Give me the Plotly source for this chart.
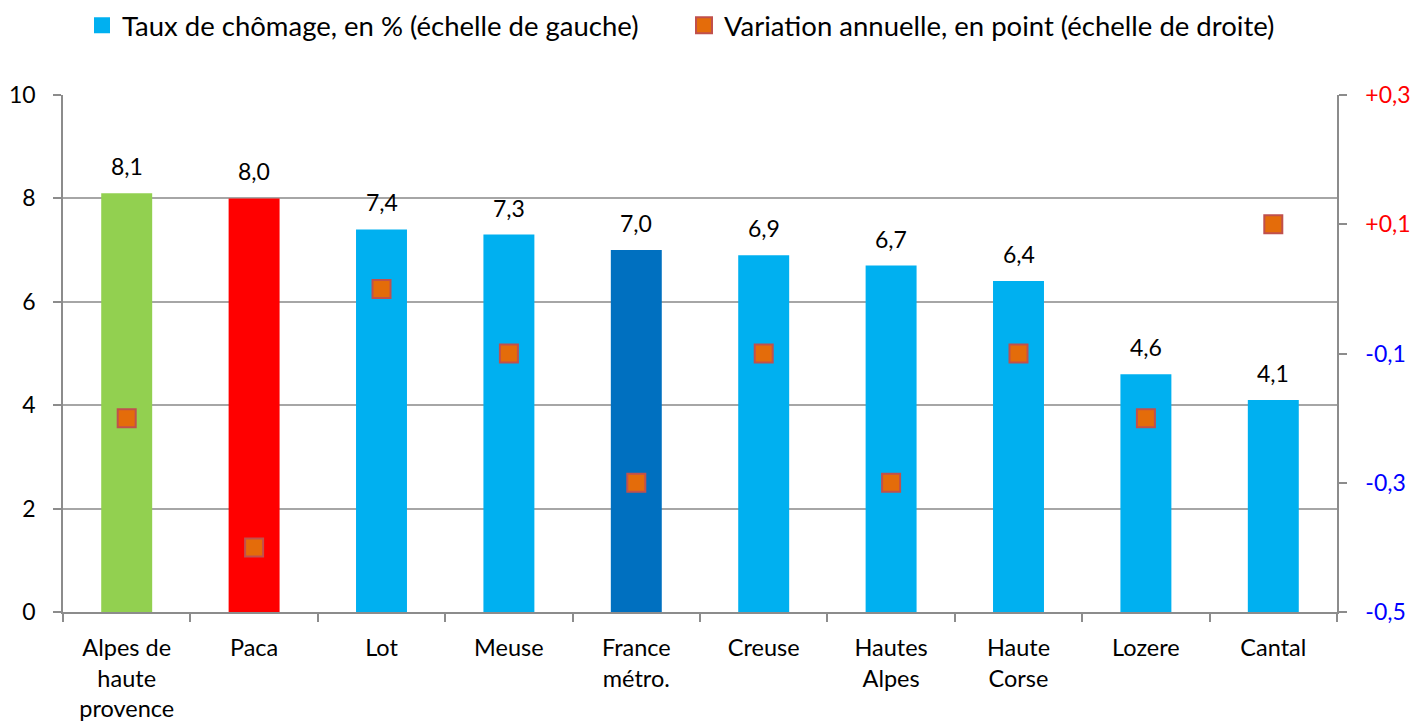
import plotly.graph_objects as go

categories = ["Alpes de<br>haute<br>provence", "Paca", "Lot", "Meuse", "France<br>métro.",
              "Creuse", "Hautes<br>Alpes", "Haute<br>Corse", "Lozere", "Cantal"]
taux = [8.1, 8.0, 7.4, 7.3, 7.0, 6.9, 6.7, 6.4, 4.6, 4.1]
variation = [-0.2, -0.4, 0.0, -0.1, -0.3, -0.1, -0.3, -0.1, -0.2, 0.1]
bar_colors = ["#92D050", "#FF0000", "#00B0F0", "#00B0F0", "#0070C0",
              "#00B0F0", "#00B0F0", "#00B0F0", "#00B0F0", "#00B0F0"]
right_ticks = [-0.5, -0.3, -0.1, 0.1, 0.3]
right_labels = ["<span style='color:#0000FF'>-0,5</span>", "<span style='color:#0000FF'>-0,3</span>",
                "<span style='color:#0000FF'>-0,1</span>", "<span style='color:#FF0000'>+0,1</span>",
                "<span style='color:#FF0000'>+0,3</span>"]

FONT = "Lato, Open Sans, sans-serif"
fig = go.Figure()
fig.add_trace(go.Bar(
    x=categories, y=taux, marker=dict(color=bar_colors, line=dict(width=0)),
    width=0.40, showlegend=False, yaxis="y", hoverinfo="x+y"))
fig.add_trace(go.Scatter(
    x=categories, y=variation, mode="markers", yaxis="y2", showlegend=False,
    marker=dict(symbol="square", size=18, color="#E46C0A", line=dict(color="#C0504D", width=2))))
# legend entries (each in its own legend box to reproduce the spacing)
fig.add_trace(go.Scatter(x=[None], y=[None], mode="markers", name="Taux de chômage, en % (échelle de gauche)",
                         legend="legend",
                         marker=dict(symbol="square", size=17, color="#00B0F0")))
fig.add_trace(go.Scatter(x=[None], y=[None], mode="markers", name="Variation annuelle, en point (échelle de droite)",
                         legend="legend2",
                         marker=dict(symbol="square", size=17, color="#E46C0A", line=dict(color="#C0504D", width=2))))

# value labels above bars
for c, v in zip(categories, taux):
    fig.add_annotation(x=c, y=v, xref="x", yref="y", text=f"{v:.1f}".replace(".", ","),
                       showarrow=False, yanchor="bottom", yshift=11, font=dict(size=23, color="#000000"))

axis_common = dict(linecolor="#8C8C8C", linewidth=1.5, ticks="outside", ticklen=8,
                   tickcolor="#8C8C8C", tickwidth=1.5, automargin=False, showline=True)
legend_common = dict(orientation="h", xanchor="left", xref="container", y=0.965, yanchor="middle",
                     yref="container", font=dict(size=27.5), itemsizing="trace", itemwidth=30,
                     bgcolor="rgba(0,0,0,0)")
fig.update_layout(
    width=1414, height=723, plot_bgcolor="white", paper_bgcolor="white",
    separators=", ", font=dict(family=FONT, size=23, color="#000000"),
    margin=dict(l=63, r=77, t=95, b=111, autoexpand=False),
    legend=dict(x=82 / 1414, **legend_common),
    legend2=dict(x=684 / 1414, **legend_common),
    xaxis=dict(range=[-0.5, len(categories) - 0.5], tickson="boundaries", tickfont=dict(size=23.5),
               showgrid=False, ticklabelstandoff=14, **axis_common),
    yaxis=dict(range=[0, 10], tickvals=[0, 2, 4, 6, 8, 10], showgrid=True, gridcolor="#A6A6A6",
               gridwidth=1.5, tickfont=dict(size=23), zeroline=False, ticklabelstandoff=13,
               **axis_common),
    yaxis2=dict(range=[-0.5, 0.3], overlaying="y", side="right", tickvals=right_ticks,
                ticktext=right_labels, showgrid=False, tickfont=dict(size=23), zeroline=False,
                ticklabelstandoff=14, **axis_common),
)
fig.write_html("out.html", config={"displayModeBar": False},
               post_script="document.body.style.margin='0';document.body.style.overflow='hidden';")
